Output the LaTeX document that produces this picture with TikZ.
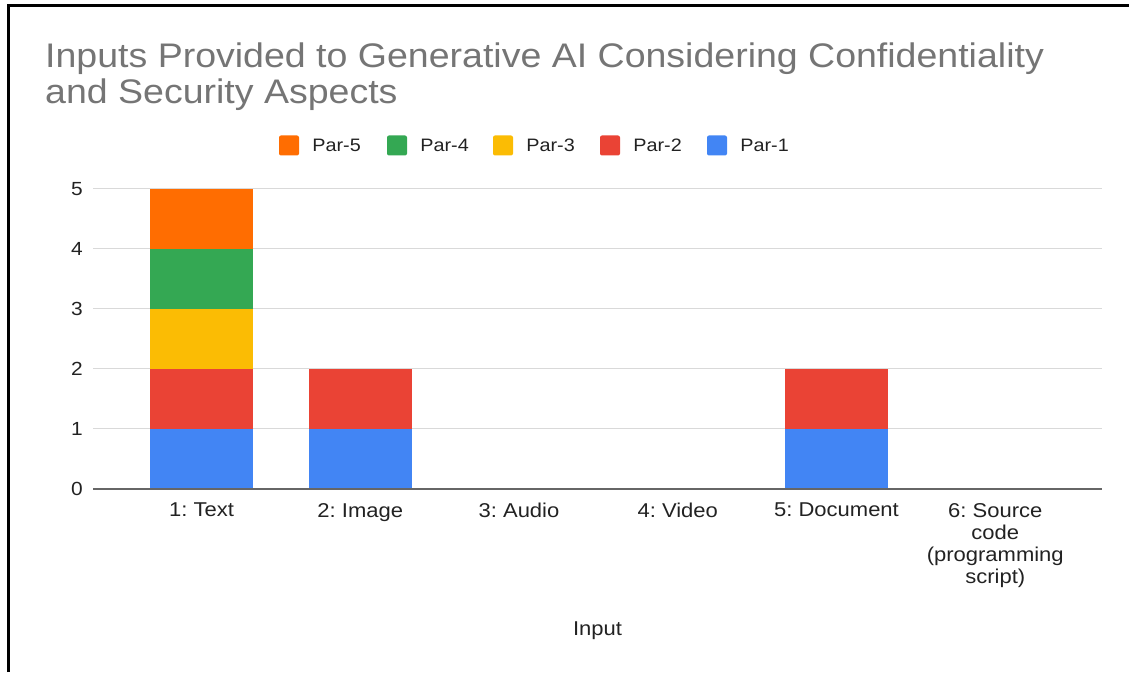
\documentclass[tikz,border=0pt]{standalone}
\usepackage{fontspec}
\setmainfont{Liberation Sans}[FakeStretch=1.1]
\usetikzlibrary{positioning}

\definecolor{parone}{HTML}{4285F4}
\definecolor{partwo}{HTML}{EA4335}
\definecolor{parthree}{HTML}{FBBC04}
\definecolor{parfour}{HTML}{34A853}
\definecolor{parfive}{HTML}{FF6D01}
\definecolor{titlegray}{HTML}{757575}
\definecolor{gridgray}{HTML}{D9D9D9}
\definecolor{axisgray}{HTML}{666666}
\definecolor{labelgray}{HTML}{222222}

\frenchspacing

\begin{document}
\begin{tikzpicture} [
    x=1pt, y=1pt,
    heading/.style  = { anchor=base west, inner sep=0pt, text=titlegray,
                        font=\fontsize{34.1}{36}\selectfont },
    grid/.style     = { draw=gridgray, line width=1pt },
    axisline/.style = { draw=axisgray, line width=2pt },
    ytick/.style    = { anchor=east, inner sep=0pt, text=labelgray,
                        font=\fontsize{19}{22}\selectfont },
    xtick/.style    = { anchor=north, inner sep=0pt, text=labelgray, align=center,
                        font=\fontsize{20}{22}\selectfont },
    legbox/.style   = { rectangle, minimum size=20pt, inner sep=0pt,
                        rounded corners=2pt },
    legtext/.style  = { anchor=west, inner sep=0pt, text=labelgray,
                        font=\fontsize{18}{22}\selectfont },
  ]

\useasboundingbox (0,0) rectangle (1129,672);

% frame (left and top only)
\coordinate (framebl) at (8.5,0);
\coordinate (frametl) at (8.5,666);
\coordinate (frametr) at (1129,666);
\draw[line width=3pt] (framebl) -- (frametl) -- (frametr);

% title
\node [heading] (title1) at (45,604.7)
    {Inputs Provided to Generative AI Considering Confidentiality};
\node [heading] (title2) at (45,568.7) {and Security Aspects};

% legend
\foreach \nm/\col/\xx in {5/parfive/289, 4/parfour/397, 3/parthree/503,
                          2/partwo/610, 1/parone/717} {
    \node [legbox, fill=\col] (box\nm) at (\xx,526.5) {};
    \node [legtext, right=13pt of box\nm] (leg\nm) {Par-\nm};
}

% gridlines and y ticks
\foreach \v in {1,...,5} {
    \draw[grid] (93,183+60*\v) -- (1102,183+60*\v);
}
\foreach \v in {0,...,5} {
    \node [ytick] (y\v) at (83,183+60*\v) {\v};
}

% stacked bars
\foreach \cx/\top in {201.5/5, 360.25/2, 836.5/2} {
    \foreach \lv/\col in {1/parone, 2/partwo, 3/parthree, 4/parfour, 5/parfive} {
        \ifnum\lv>\top\relax\else
            \fill[\col] (\cx-51.5,123+60*\lv) rectangle (\cx+51.5,183+60*\lv);
        \fi
    }
}

\draw[axisline] (93,183) -- (1102,183);

% categories
\node [xtick] (cat1) at (201.5,169)  {1: Text};
\node [xtick] (cat2) at (360.25,169) {2: Image};
\node [xtick] (cat3) at (519,169)    {3: Audio};
\node [xtick] (cat4) at (677.75,169) {4: Video};
\node [xtick] (cat5) at (836.5,169)  {5: Document};
\node [xtick] (cat6) at (995.25,169) {6: Source\\code\\(programming\\script)};

\node [text=labelgray, font=\fontsize{20}{22}\selectfont] (xtitle) at (597.5,41) {Input};

\end{tikzpicture}
\end{document}
